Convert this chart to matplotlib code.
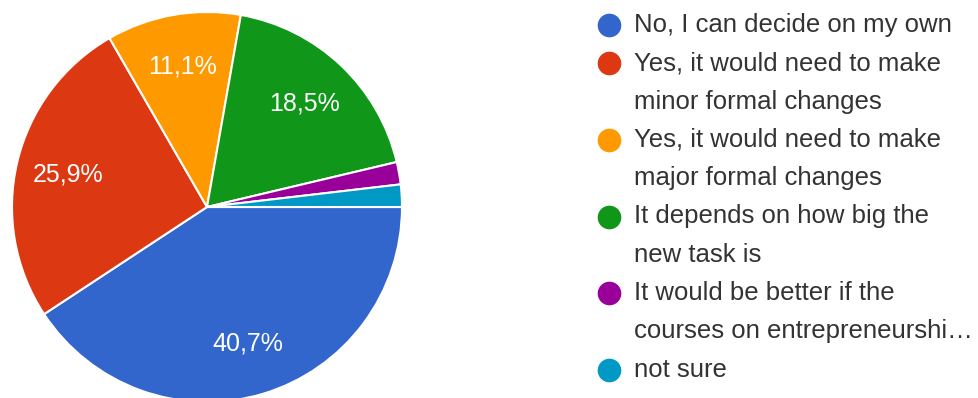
import matplotlib
matplotlib.use('Agg')
import matplotlib.pyplot as plt

plt.rcParams['font.family'] = ['Liberation Sans', 'DejaVu Sans']

# survey answers (54 responses)
answers = [
    'No, I can decide on my own',
    'Yes, it would need to make\nminor formal changes',
    'Yes, it would need to make\nmajor formal changes',
    'It depends on how big the\nnew task is',
    'It would be better if the\ncourses on entrepreneurshi\u2026',
    'not sure',
]
counts = [22, 14, 6, 10, 1, 1]
colors = ['#3366cc', '#dc3912', '#ff9900', '#109618', '#990099', '#0099c6']

W, H = 979, 398
fig = plt.figure(figsize=(W / 100, H / 100), dpi=100)
fig.patch.set_facecolor('white')

# pie, centre (207, 207) px, radius 195 px
cx, cy, r = 207, 207, 195
ax = fig.add_axes([(cx - r) / W, (H - cy - r) / H, 2 * r / W, 2 * r / H])


def pct_label(p):
    if p < 5:
        return ''
    return f'{p:.1f}'.replace('.', ',') + '%'


wedges, _, autotexts = ax.pie(
    counts, colors=colors, startangle=0, counterclock=False,
    autopct=pct_label, pctdistance=0.73, radius=1,
    wedgeprops=dict(edgecolor='white', linewidth=1.5),
    textprops=dict(color='white', fontsize=18))
ax.set_xlim(-1, 1)
ax.set_ylim(-1, 1)
ax.set_aspect('equal')
ax.axis('off')

# legend drawn by hand: dot + wrapped label lines
line_step = 38.3
y = 25.0
for label, col in zip(answers, colors):
    fig.lines.append(plt.Line2D([609 / W], [1 - y / H], marker='o', markersize=16,
                                color=col, transform=fig.transFigure))
    for line in label.split('\n'):
        fig.text(634 / W, 1 - y / H, line, fontsize=18.5, color='#333333',
                 va='center', ha='left')
        y += line_step

fig.savefig('out.png', dpi=100, facecolor='white')
